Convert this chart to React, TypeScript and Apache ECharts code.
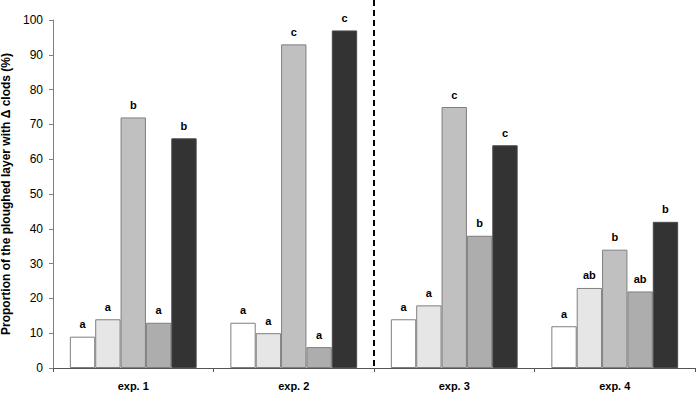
import React, { useEffect, useRef } from "react";
import * as echarts from "echarts";

const categories = ["exp. 1", "exp. 2", "exp. 3", "exp. 4"];
const s1 = [9, 13, 14, 12];
const s2 = [14, 10, 18, 23];
const s3 = [72, 93, 75, 34];
const s4 = [13, 6, 38, 22];
const s5 = [66, 97, 64, 42];
const l1 = ["a", "a", "a", "a"];
const l2 = ["a", "a", "a", "ab"];
const l3 = ["b", "c", "c", "b"];
const l4 = ["a", "a", "b", "ab"];
const l5 = ["b", "c", "c", "b"];
const yTicks = [0, 10, 20, 30, 40, 50, 60, 70, 80, 90, 100];

const colors = ["#ffffff", "#e6e6e6", "#c0c0c0", "#adadad", "#333333"];
const borders = ["#7f7f7f", "#7f7f7f", "#7f7f7f", "#7f7f7f", "#4a4a4a"];

export default function App() {
  const ref = useRef<HTMLDivElement>(null);
  useEffect(() => {
    const chart = echarts.init(ref.current!, null, { renderer: "svg" });
    const values = [s1, s2, s3, s4, s5];
    const letters = [l1, l2, l3, l4, l5];
    chart.setOption({
      animation: false,
      grid: { left: 53, right: 3, top: 20, bottom: 29, containLabel: false, outerBoundsMode: "none" },
      xAxis: {
        type: "category",
        data: categories,
        axisLine: { lineStyle: { color: "#555", width: 1 } },
        axisTick: { show: true, length: 4, lineStyle: { color: "#555" } },
        axisLabel: {
          fontFamily: "Liberation Sans, Arial",
          fontWeight: "bold",
          fontSize: 11,
          color: "#000",
          margin: 12,
        },
      },
      yAxis: {
        type: "value",
        min: yTicks[0],
        max: yTicks[yTicks.length - 1],
        interval: 10,
        splitLine: { show: false },
        axisLine: { show: true, lineStyle: { color: "#808080" } },
        axisTick: { show: true, length: 4, lineStyle: { color: "#808080" } },
        axisLabel: {
          fontFamily: "Liberation Sans, Arial",
          fontSize: 12,
          color: "#000",
          margin: 10,
        },
        name: "Proportion of the ploughed layer with Δ clods (%)",
        nameLocation: "middle",
        nameGap: 40,
        nameTextStyle: {
          fontFamily: "Liberation Sans, Arial",
          fontWeight: "bold",
          fontSize: 12,
          color: "#000",
        },
      },
      series: values.map((v, i) => ({
        type: "bar",
        data: v,
        barGap: "0%",
        barCategoryGap: "21%",
        itemStyle: { color: colors[i], borderColor: borders[i], borderWidth: 1 },
        label: {
          show: true,
          position: "top",
          distance: 7,
          fontFamily: "Liberation Sans, Arial",
          fontWeight: "bold",
          fontSize: 11,
          color: "#000",
          formatter: (p: any) => letters[i][p.dataIndex],
        },
      })),
    });
    const x2 = chart.convertToPixel({ xAxisIndex: 0 }, 1) as number;
    const x3 = chart.convertToPixel({ xAxisIndex: 0 }, 2) as number;
    const y0 = chart.convertToPixel({ yAxisIndex: 0 }, 0) as number;
    const xm = (x2 + x3) / 2;
    chart.setOption({
      graphic: [
        {
          type: "line",
          shape: { x1: xm, y1: 0, x2: xm, y2: y0 },
          style: { stroke: "#000", lineWidth: 2, lineDash: [6, 4] },
          z: 10,
        },
      ],
    });
    return () => chart.dispose();
  }, []);
  return (
    <div
      ref={ref}
      style={{ position: "fixed", left: 0, top: 0, width: 698, height: 397, background: "#fff" }}
    />
  );
}
